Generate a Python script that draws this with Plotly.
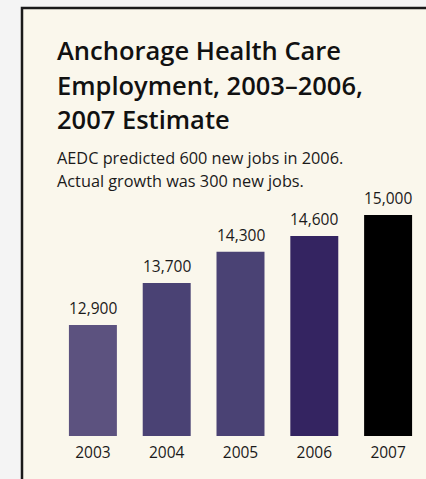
import plotly.graph_objects as go

years = ["2003", "2004", "2005", "2006", "2007"]
jobs = [12900, 13700, 14300, 14600, 15000]
bar_colors = ["#5c527f", "#4a4274", "#4a4274", "#342461", "#000000"]
value_labels = ["12,900", "13,700", "14,300", "14,600", "15,000"]
title_lines = ["Anchorage Health Care", "Employment, 2003–2006,", "2007 Estimate"]
subtitle_lines = ["AEDC predicted 600 new jobs in 2006.", "Actual growth was 300 new jobs."]

W, H = 426, 479
FONT = "Open Sans"

def px(x):
    return x / W

def py(y):
    return 1 - y / H

fig = go.Figure()
fig.add_trace(go.Bar(
    x=years, y=jobs, marker=dict(color=bar_colors, line=dict(width=0)),
    hoverinfo="skip", width=0.65,
))

ann = []
for i, (v, lab) in enumerate(zip(jobs, value_labels)):
    ann.append(dict(x=i, y=v, xref="x", yref="y", text=lab, showarrow=False,
                    yanchor="bottom", yshift=4,
                    font=dict(family=FONT, size=15.5, color="#1a1a1a")))

title_base = [62, 97, 130]
for t, b in zip(title_lines, title_base):
    ann.append(dict(x=px(55), y=py(b), xref="paper", yref="paper", text=t,
                    showarrow=False, xanchor="left", yanchor="bottom", yshift=-7.5,
                    font=dict(family=FONT, size=25.5, color="#111111", weight=600)))

sub_base = [166, 189]
for t, b in zip(subtitle_lines, sub_base):
    ann.append(dict(x=px(55), y=py(b), xref="paper", yref="paper", text=t,
                    showarrow=False, xanchor="left", yanchor="bottom", yshift=-5,
                    font=dict(family=FONT, size=16.3, color="#1a1a1a")))

fig.update_layout(
    width=W, height=H,
    autosize=False,
    margin=dict(l=0, r=0, t=0, b=0, pad=0),
    paper_bgcolor="#f4f4f4",
    plot_bgcolor="rgba(0,0,0,0)",
    showlegend=False,
    annotations=ann,
    shapes=[dict(type="rect", xref="paper", yref="paper",
                 x0=px(22), x1=1.05, y0=-0.05, y1=py(8),
                 fillcolor="#faf7ec", line=dict(color="#1a1a1a", width=2.5),
                 layer="below")],
    xaxis=dict(type="category", domain=[px(56), px(425)], range=[-0.5, 4.5],
               showgrid=False, zeroline=False, automargin=False,
               showline=False, ticks="outside", ticklen=2, tickcolor="rgba(0,0,0,0)",
               tickfont=dict(family=FONT, size=15.5, color="#1a1a1a")),
    yaxis=dict(domain=[py(436), py(190)], range=[10781, 15477], visible=False,
               showgrid=False, automargin=False),
)

fig.write_html("out.html", config={"displayModeBar": False},
               post_script="document.body.style.margin='0';document.body.style.overflow='hidden';")
